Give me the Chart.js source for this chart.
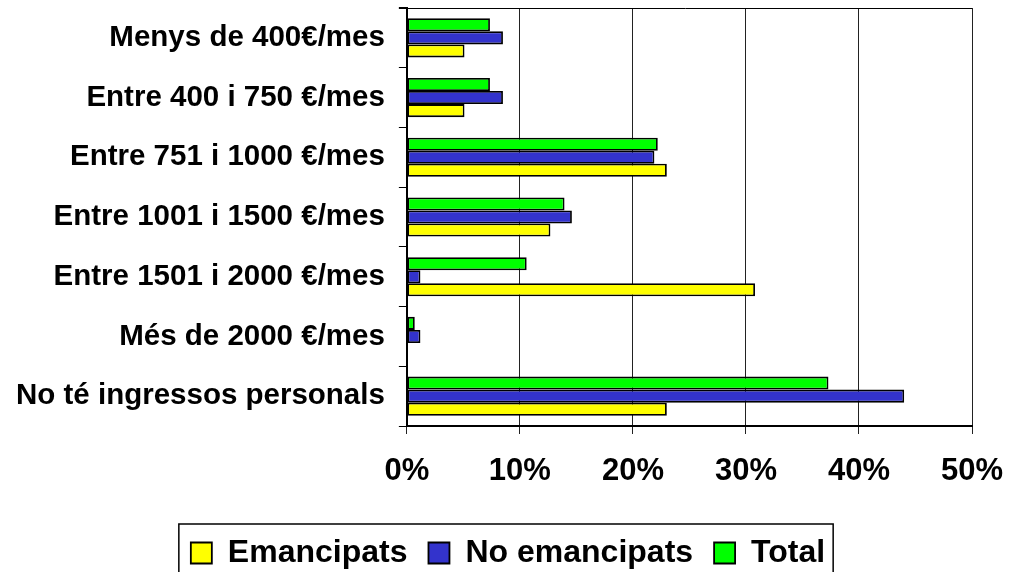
<!DOCTYPE html>
<html>
<head>
<meta charset="utf-8">
<script src="https://cdn.jsdelivr.net/npm/chart.js@4.4.1/dist/chart.umd.min.js"></script>
<style>
  html, body { margin: 0; padding: 0; background: #fff; }
  #wrap { width: 1010px; height: 572px; }
</style>
</head>
<body>
<div id="wrap"><canvas id="chart" width="1010" height="572"></canvas></div>
<script>
const categories = [
  'Menys de 400€/mes',
  'Entre 400 i 750 €/mes',
  'Entre 751 i 1000 €/mes',
  'Entre 1001 i 1500 €/mes',
  'Entre 1501 i 2000 €/mes',
  'Més de 2000 €/mes',
  'No té ingressos personals'
];
const emancipats   = [5.1, 5.1, 23.0, 12.7, 30.8, 0, 23.0];
const noEmancipats = [8.5, 8.5, 21.9, 14.6, 1.2, 1.2, 44.0];
const total        = [7.35, 7.35, 22.2, 13.95, 10.6, 0.7, 37.3];
const xTicks = [0, 10, 20, 30, 40, 50];

const FONT = "'Liberation Sans', Arial, sans-serif";
const LEGEND_SHIFT = 21;

// frame on top of the plot + border round the legend
const extras = {
  id: 'extras',
  afterUpdate(chart) {
    const lg = chart.legend;
    lg.left += LEGEND_SHIFT;
    lg.right += LEGEND_SHIFT;
    (lg.legendHitBoxes || []).forEach(b => { b.left += LEGEND_SHIFT; });
  },
  afterDraw(chart) {
    const ctx = chart.ctx;
    const a = chart.chartArea;
    ctx.save();
    ctx.strokeStyle = '#000';
    ctx.lineWidth = 1;
    ctx.beginPath();
    ctx.moveTo(a.left - 8, a.top + 0.5);
    ctx.lineTo(a.right, a.top + 0.5);
    ctx.stroke();

    const boxes = chart.legend.legendHitBoxes || [];
    if (boxes.length) {
      const l = Math.min(...boxes.map(b => b.left)) - 12;
      const r = Math.max(...boxes.map(b => b.left + b.width)) + 8;
      ctx.lineWidth = 1.5;
      ctx.strokeRect(l, 524, r - l, 60);
    }
    ctx.restore();
  }
};

new Chart(document.getElementById('chart').getContext('2d'), {
  type: 'bar',
  data: {
    labels: categories,
    datasets: [
      { label: 'Total', data: total, backgroundColor: '#00ff00' },
      { label: 'No emancipats', data: noEmancipats, backgroundColor: '#3333cc' },
      { label: 'Emancipats', data: emancipats, backgroundColor: '#ffff00' }
    ].map(d => ({ ...d, borderColor: '#000', borderWidth: 1.8, borderSkipped: false,
                  categoryPercentage: 0.655, barPercentage: 1.0 }))
  },
  options: {
    indexAxis: 'y',
    responsive: false,
    animation: false,
    devicePixelRatio: 1,
    layout: { padding: { top: 8, right: 38, left: 2, bottom: -7 } },
    plugins: {
      tooltip: { enabled: false },
      legend: {
        position: 'bottom',
        labels: {
          sort: (a, b) => b.datasetIndex - a.datasetIndex,
          color: '#000',
          font: { family: FONT, size: 32, weight: 'bold' },
          boxWidth: 21,
          boxHeight: 21,
          padding: 21
        }
      }
    },
    scales: {
      x: {
        min: 0,
        max: 50,
        afterBuildTicks: (scale) => { scale.ticks = xTicks.map(v => ({ value: v })); },
        afterFit: (scale) => { scale.height = 90; scale.paddingLeft = 0; scale.paddingRight = 0; },
        ticks: {
          color: '#000',
          padding: 19,
          font: { family: FONT, size: 31, weight: 'bold' },
          callback: (v) => v + '%'
        },
        grid: { color: '#222', lineWidth: 1, tickLength: 8 },
        border: { color: '#000', width: 2 }
      },
      y: {
        afterFit: (scale) => { scale.paddingTop = 0; scale.paddingBottom = 0; },
        ticks: {
          color: '#000',
          padding: 14,
          font: { family: FONT, size: 29.5, weight: 'bold' }
        },
        grid: { drawOnChartArea: false, color: '#000', tickLength: 8, offset: true },
        border: { color: '#000', width: 2 }
      }
    }
  },
  plugins: [extras]
});
</script>
</body>
</html>
